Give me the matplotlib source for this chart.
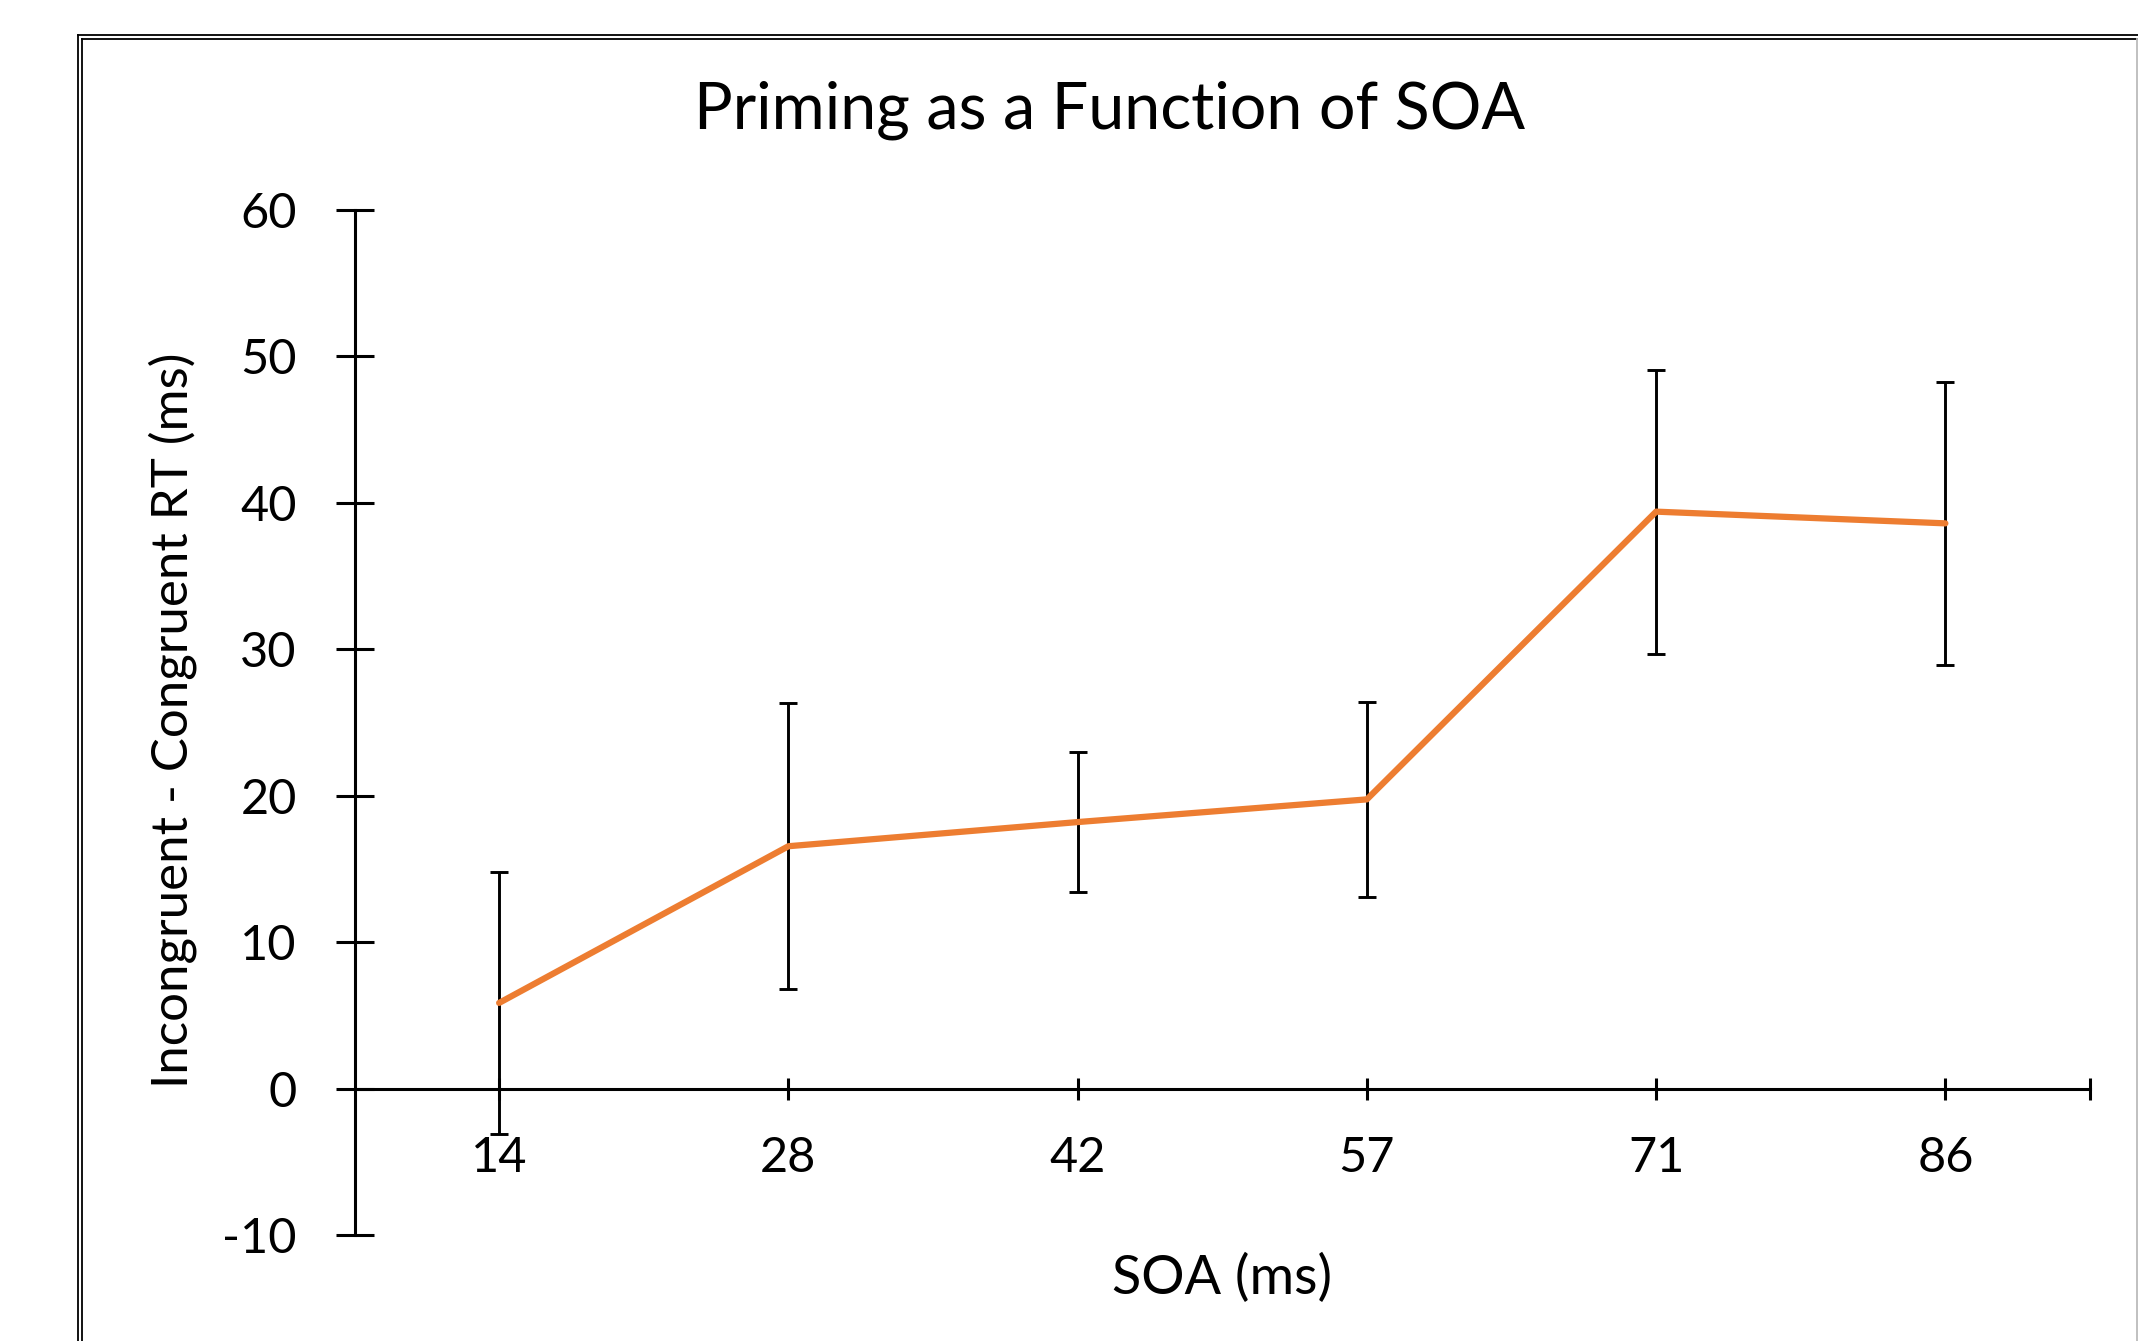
import matplotlib
matplotlib.use("Agg")
import matplotlib.pyplot as plt
from matplotlib.lines import Line2D

plt.rcParams['font.family'] = ['Lato', 'DejaVu Sans']

# values
soa_labels = ["14", "28", "42", "57", "71", "86"]
priming = [5.85, 16.55, 18.2, 19.75, 39.4, 38.6]
errors = [8.95, 9.75, 4.8, 6.65, 9.7, 9.65]
y_ticks = [-10, 0, 10, 20, 30, 40, 50, 60]

W, H = 2138, 1341
fig = plt.figure(figsize=(W / 100, H / 100), dpi=100)
ax = fig.add_axes([354.5 / W, 1 - 1235 / H, (2090 - 354.5) / W, (1235 - 210) / H])

# categories sit in the middle of their slots, like an Excel line chart
xpos = [i + 0.5 for i in range(len(soa_labels))]

ax.errorbar(xpos, priming, yerr=errors, fmt='none', ecolor='black',
            elinewidth=2.1, capsize=6.5, capthick=2.1, zorder=2)
ax.plot(xpos, priming, color='#ED7D31', linewidth=4.5, solid_capstyle='round', zorder=3)

ax.set_xlim(0, len(soa_labels))
ax.set_ylim(-10, 60)

# axes cross at zero like the original
for side in ['top', 'right']:
    ax.spines[side].set_visible(False)
ax.spines['bottom'].set_position(('data', 0))
ax.spines['bottom'].set_linewidth(2.2)
ax.spines['left'].set_linewidth(2.2)

ax.set_yticks(y_ticks)
ax.set_yticklabels([str(v) for v in y_ticks])
ax.set_xticks(xpos + [len(soa_labels)])
ax.set_xticklabels(soa_labels + [""])

ax.tick_params(axis='y', direction='inout', length=27, width=2.2, pad=28, labelsize=35)
ax.tick_params(axis='x', direction='inout', length=16.5, width=2.2, pad=26, labelsize=35)

fig.text(1110 / W, 1 - 110 / H, "Priming as a Function of SOA", ha='center', va='center', fontsize=46.5)
fig.text(1222 / W, 1 - 1278 / H, "SOA (ms)", ha='center', va='center', fontsize=39)
fig.text(173 / W, 1 - 720 / H, "Incongruent - Congruent RT (ms)", ha='center', va='center',
         rotation=90, fontsize=36.7)

# double-line frame around the chart area
for off in [78, 82]:
    fig.add_artist(Line2D([off / W, 1], [1 - (off - 43) / H, 1 - (off - 43) / H],
                          transform=fig.transFigure, color='black', linewidth=1.3))
    fig.add_artist(Line2D([off / W, off / W], [0, 1 - (off - 43) / H],
                          transform=fig.transFigure, color='black', linewidth=1.3))
fig.add_artist(Line2D([2136.5 / W, 2136.5 / W], [0, 1 - 39 / H],
                      transform=fig.transFigure, color='#bbbbbb', linewidth=1.3))

fig.savefig("out.png", dpi=100)
